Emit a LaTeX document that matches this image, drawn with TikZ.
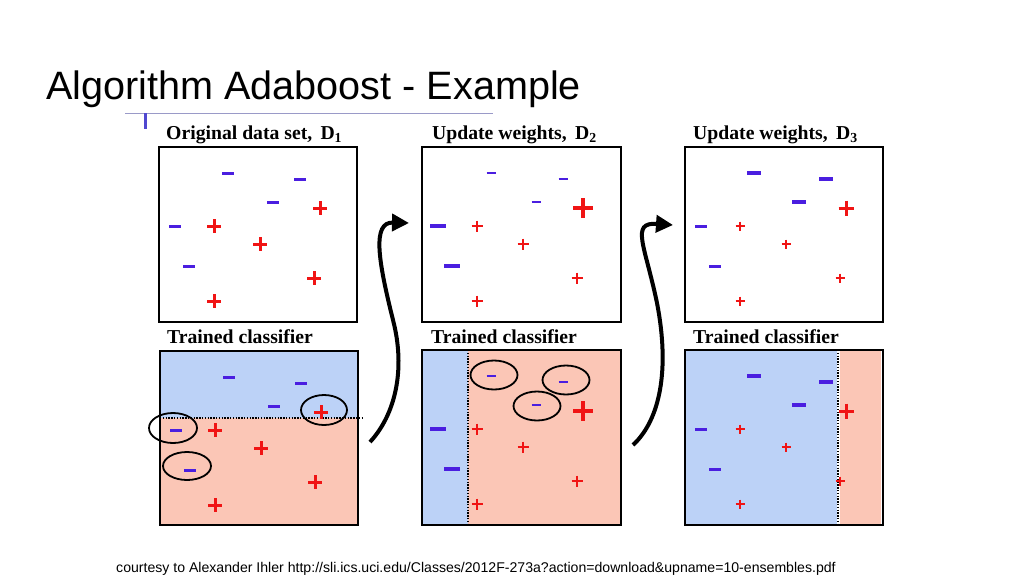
\documentclass[tikz,border=0pt]{standalone}
\usepackage{fontspec}
\usepackage{tikz}
\usetikzlibrary{arrows.meta}
\setmainfont{Liberation Serif}
\newfontfamily\slidefont{Liberation Sans}

\definecolor{negcol}{HTML}{4A1EE0}
\definecolor{poscol}{HTML}{F01414}
\definecolor{negarea}{HTML}{BCD2F7}
\definecolor{posarea}{HTML}{FBC6B6}
\definecolor{rulecol}{HTML}{9A9AC8}
\definecolor{barcol}{HTML}{5048D0}

\tikzset{
  pics/negmark/.style 2 args={code={\draw[negcol,line width=#2pt] (-#1,0) -- (#1,0);}},
  pics/posmark/.style 2 args={code={\draw[poscol,line width=#2pt] (-#1,0) -- (#1,0) (0,-#1) -- (0,#1);}},
  panelbox/.style={draw=black,line width=2.2pt},
  boundary/.style={black,line width=1.6pt,dash pattern=on 1.4pt off 1.4pt},
  miss/.style={draw=black,line width=1.8pt},
  paneltitle/.style={anchor=base west,inner sep=0pt,font=\bfseries\fontsize{19.7}{22}\selectfont},
  flow/.style={line width=4pt,-{Triangle[length=17pt,width=17pt]}}
}

% point sets: x/y/half-length/line width
\newcommand{\negone}{69/26/6/3, 141/32/6/3, 114/55/6/3, 16/79/6/3, 30/119/6/3}
\newcommand{\posone}{161/61/7/3, 55/79/7/3, 101/97/7/3, 155/131/7/3, 55/154/7/3}
\newcommand{\negtwo}{69/26/4.5/2, 141/32/4.5/2, 114/55/4.5/2, 16/79/8/3.5, 30/119/8/3.5}
\newcommand{\postwo}{161/61/10/4, 55/79/5.5/2, 101/97/5.5/2, 155/131/5.5/2, 55/154/5.5/2}
\newcommand{\negthree}{69/26/7/3.5, 141/32/7/3.5, 114/55/7/3.5, 16/79/6/3, 30/119/6/3}
\newcommand{\posthree}{161/61/7.5/3, 55/79/4.5/1.8, 101/97/4.5/1.8, 155/131/4.5/1.8, 55/154/4.5/1.8}

\begin{document}
\begin{tikzpicture}[x=1pt,y=-1pt]
  \useasboundingbox[fill=white] (0,0) rectangle (1024,576);

  % slide title
  \node[anchor=base west,inner sep=0pt,font=\slidefont\fontsize{39.6}{48}\selectfont] (title) at (46,99) {Algorithm Adaboost - Example};
  \draw[rulecol,line width=1pt] (125,113) -- (493,113);
  \draw[barcol,line width=3pt] (145,113) -- (145,129);

  % panel titles
  \node[paneltitle] (lblA) at (166,139) {Original data set,\, D\textsubscript{1}};
  \node[paneltitle] (lblB) at (432,139) {Update weights,\, D\textsubscript{2}};
  \node[paneltitle] (lblC) at (693,139) {Update weights,\, D\textsubscript{3}};
  \node[paneltitle] (lblD) at (167,343) {Trained classifier};
  \node[paneltitle] (lblE) at (431,343) {Trained classifier};
  \node[paneltitle] (lblF) at (693,343) {Trained classifier};

  % D1
  \begin{scope}[shift={(159,147)}]
    \foreach \mx/\my/\mh/\mw in \negone {\pic at (\mx,\my) {negmark={\mh}{\mw}};}
    \foreach \mx/\my/\mh/\mw in \posone {\pic at (\mx,\my) {posmark={\mh}{\mw}};}
    \draw[panelbox] (0,0) rectangle (198,175);
  \end{scope}
  \begin{scope}[shift={(160,351)}]
    \fill[negarea] (0,0) rectangle (198,67);
    \fill[posarea] (0,67) rectangle (198,174);
    \draw[boundary] (0,67) -- (202,67);
    \foreach \mx/\my/\mh/\mw in \negone {\pic at (\mx,\my) {negmark={\mh}{\mw}};}
    \foreach \mx/\my/\mh/\mw in \posone {\pic at (\mx,\my) {posmark={\mh}{\mw}};}
    \draw[miss] (164,59) ellipse (23 and 15);
    \draw[miss] (13,77) ellipse (24 and 15);
    \draw[miss] (27,115) ellipse (24 and 14);
    \draw[panelbox] (0,0) rectangle (198,174);
  \end{scope}

  % D2
  \begin{scope}[shift={(422,147)}]
    \foreach \mx/\my/\mh/\mw in \negtwo {\pic at (\mx,\my) {negmark={\mh}{\mw}};}
    \foreach \mx/\my/\mh/\mw in \postwo {\pic at (\mx,\my) {posmark={\mh}{\mw}};}
    \draw[panelbox] (0,0) rectangle (199,175);
  \end{scope}
  \begin{scope}[shift={(422,350)}]
    \fill[negarea] (0,0) rectangle (46,175);
    \fill[posarea] (46,0) rectangle (199,175);
    \draw[boundary] (46,0) -- (46,175);
    \foreach \mx/\my/\mh/\mw in \negtwo {\pic at (\mx,\my) {negmark={\mh}{\mw}};}
    \foreach \mx/\my/\mh/\mw in \postwo {\pic at (\mx,\my) {posmark={\mh}{\mw}};}
    \draw[miss] (72,25) ellipse (23.5 and 14.5);
    \draw[miss] (144,30) ellipse (23.5 and 14.5);
    \draw[miss] (115,56) ellipse (23.5 and 14.5);
    \draw[panelbox] (0,0) rectangle (199,175);
  \end{scope}

  % D3
  \begin{scope}[shift={(685,147)}]
    \foreach \mx/\my/\mh/\mw in \negthree {\pic at (\mx,\my) {negmark={\mh}{\mw}};}
    \foreach \mx/\my/\mh/\mw in \posthree {\pic at (\mx,\my) {posmark={\mh}{\mw}};}
    \draw[panelbox] (0,0) rectangle (198,175);
  \end{scope}
  \begin{scope}[shift={(685,350)}]
    \fill[negarea] (1,0) rectangle (152,175);
    \fill[posarea] (155,0) rectangle (196,175);
    \draw[boundary] (153,0) -- (153,175);
    \foreach \mx/\my/\mh/\mw in \negthree {\pic at (\mx,\my) {negmark={\mh}{\mw}};}
    \foreach \mx/\my/\mh/\mw in \posthree {\pic at (\mx,\my) {posmark={\mh}{\mw}};}
    \draw[panelbox] (0,0) rectangle (198,175);
  \end{scope}

  % reweighting arrows
  \coordinate (fromA) at (370,442);
  \coordinate (midA) at (393,320);
  \coordinate (toB) at (409,223);
  \coordinate (fromB) at (633,445);
  \coordinate (midB) at (657,303);
  \coordinate (toC) at (673,225);
  \draw[flow] (fromA) .. controls (395,415) and (406,370) .. (midA)
    .. controls (378,260) and (372,222) .. (toB);
  \draw[flow] (fromB) .. controls (660,420) and (670,370) .. (midB)
    .. controls (645,245) and (630,222) .. (toC);

  % source
  \node[anchor=west,inner sep=0pt,font=\slidefont\fontsize{14.1}{16}\selectfont] (credit) at (116,569) {courtesy to Alexander Ihler http://sli.ics.uci.edu/Classes/2012F-273a?action=download\&upname=10-ensembles.pdf};
\end{tikzpicture}
\end{document}
